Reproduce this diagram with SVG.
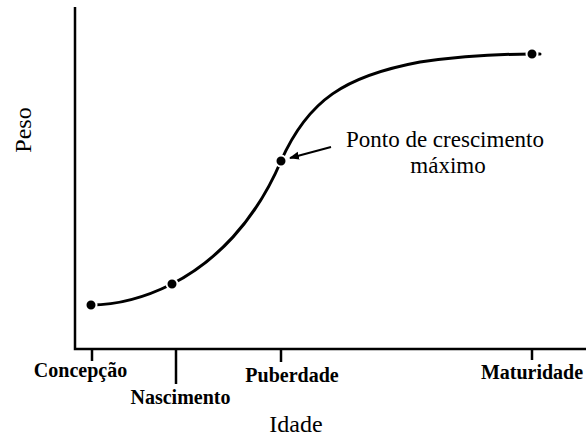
<svg xmlns="http://www.w3.org/2000/svg" width="586" height="437" viewBox="0 0 586 437">
<style>
.ax{stroke:#000;stroke-width:2.5;fill:none}
.tk{stroke:#000;stroke-width:2.5;fill:none}
.cv{stroke:#000;stroke-width:3;fill:none;stroke-linecap:round}
.dot{fill:#000;stroke:#fff;stroke-width:2}
.lb{font-family:"Liberation Serif","Times New Roman",serif;font-weight:bold;font-size:20px;fill:#000;text-anchor:middle}
.tt{font-family:"Liberation Serif","Times New Roman",serif;font-size:24px;fill:#000;text-anchor:middle}
.an{font-family:"Liberation Serif","Times New Roman",serif;font-size:23px;fill:#000;text-anchor:middle}
</style>
<defs>
<marker id="ah" viewBox="0 0 10 10" refX="9" refY="5" markerWidth="5" markerHeight="5" orient="auto" markerUnits="strokeWidth">
<path d="M0,1 L10,5 L0,9 Z" fill="#000"/>
</marker>
</defs>
<rect width="586" height="437" fill="#fff"/>
<g id="axes">
<path class="ax" d="M75,7 L75,349 L586,349"/>
<line class="tk" x1="92" y1="349" x2="92" y2="361"/>
<line class="tk" x1="176" y1="349" x2="176" y2="384"/>
<line class="tk" x1="281" y1="349" x2="281" y2="362"/>
<line class="tk" x1="532" y1="349" x2="532" y2="360"/>
<text class="tt" transform="translate(31,130) rotate(-90)">Peso</text>
<text class="tt" x="296" y="432">Idade</text>
</g>
<g id="connectors">
<path class="cv" d="M91,305 C120,305 148,296 172,284 C215,262 255,222 281,161 C308,100 345,76 420,62 C470,55 500,54 532,54 L540,54"/>
<line x1="331" y1="147" x2="290" y2="158" stroke="#000" stroke-width="2" marker-end="url(#ah)"/>
</g>
<g id="concepcao">
<circle class="dot" cx="91" cy="305" r="5.5"/>
<text class="lb" x="80.5" y="377">Concepção</text>
</g>
<g id="nascimento">
<circle class="dot" cx="172" cy="284" r="5.5"/>
<text class="lb" x="180.5" y="404">Nascimento</text>
</g>
<g id="puberdade">
<circle class="dot" cx="281" cy="161" r="5.5"/>
<text class="lb" x="292" y="382">Puberdade</text>
</g>
<g id="maturidade">
<circle class="dot" cx="532" cy="54" r="5.5"/>
<text class="lb" x="532" y="379">Maturidade</text>
</g>
<g id="ponto">
<text class="an" x="445" y="147">Ponto de crescimento</text>
<text class="an" x="448" y="173">máximo</text>
</g>
</svg>
